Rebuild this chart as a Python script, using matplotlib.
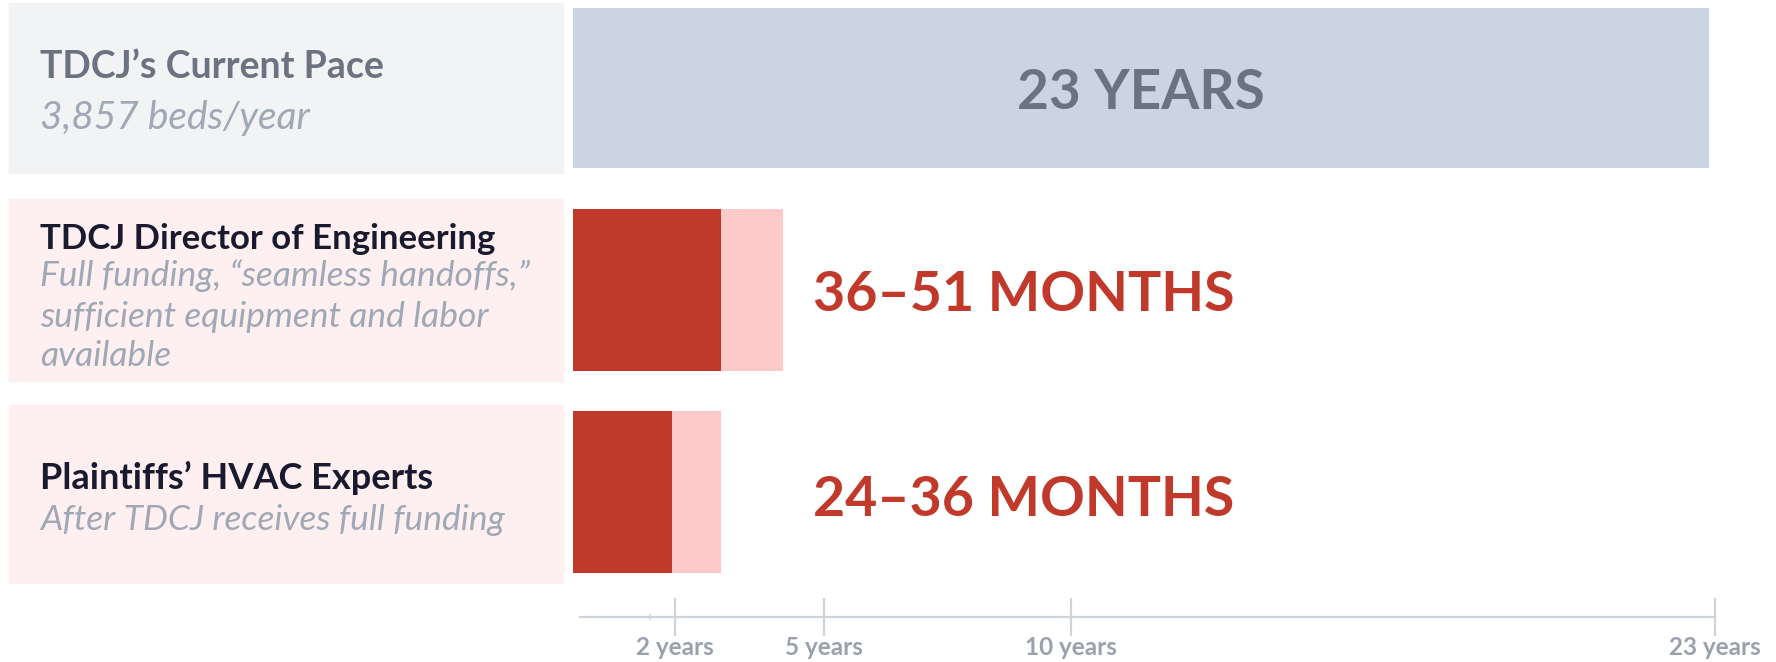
import matplotlib

matplotlib.use("Agg")
import matplotlib.pyplot as plt
from matplotlib.patches import Rectangle

# --- Data ---------------------------------------------------------------------
row_titles = ["TDCJ\u2019s Current Pace", "TDCJ Director of Engineering", "Plaintiffs\u2019 HVAC Experts"]
row_subtitles = [
    ["3,857 beds/year"],
    ["Full funding, \u201cseamless handoffs,\u201d", "sufficient equipment and labor", "available"],
    ["After TDCJ receives full funding"],
]
low_months = [276, 36, 24]
high_months = [276, 51, 36]
value_labels = ["23 YEARS", "36\u201351 MONTHS", "24\u201336 MONTHS"]
tick_years = [2, 5, 10, 23]
tick_labels = ["2 years", "5 years", "10 years", "23 years"]

# --- Style --------------------------------------------------------------------
FONT = "Lato"
GRAY_BAR = "#cbd5e1"
DARK_RED = "#c0392b"
LIGHT_RED = "#fec9c9"
PANEL_GRAY = "#f2f3f5"
PANEL_PINK = "#fef0f0"
SLATE = "#6b7280"
NAVY = "#1a1a2e"
MUTED = "#a0a8b5"
AXIS = "#cfd3da"

W, H = 1776, 662
PX_PER_YEAR = 49.4
X0 = 573  # pixel where 0 years sits on the bars
AX_X0, AX_PX_PER_YEAR = 576, 49.5  # the scale underneath is drawn slightly offset
ROW_TOP, ROW_STEP = 88, 202  # pixel centre of first row and spacing


def fx(px):
    return px / W


def fy(py):
    return 1 - py / H


fig = plt.figure(figsize=(W / 100, H / 100), dpi=100)
fig.patch.set_facecolor("white")

# bar axes covers the full height; x in years
xmax = (W - X0) / PX_PER_YEAR
ax = fig.add_axes([fx(X0), 0, 1 - fx(X0), 1])
ax.set_xlim(0, xmax)
ax.set_ylim((H - ROW_TOP) / ROW_STEP, -ROW_TOP / ROW_STEP)
ax.axis("off")

low_years = [m / 12 for m in low_months]
high_years = [m / 12 for m in high_months]
ypos = list(range(len(row_titles)))
bar_h = 0.805

ax.barh(ypos[0], high_years[0], height=bar_h * 0.985, color=GRAY_BAR, left=0)
ax.text(high_years[0] / 2, ypos[0] + 0.025, value_labels[0], ha="center", va="center",
        fontsize=39.5, fontweight="bold", color=SLATE, family=FONT)

for i in ypos[1:]:
    ax.barh(i, high_years[i], height=bar_h, color=LIGHT_RED)
    ax.barh(i, low_years[i], height=bar_h, color=DARK_RED)
    ax.text(4.86, i + 0.01 + 0.015 * i, value_labels[i], ha="left", va="center",
            fontsize=40, fontweight="bold", color=DARK_RED, family=FONT)

# left-hand label panels
panels = [(3, 173, PANEL_GRAY), (199, 381, PANEL_PINK), (405, 583, PANEL_PINK)]
for top, bot, col in panels:
    fig.patches.append(Rectangle((fx(9), fy(bot)), fx(563) - fx(9), (bot - top) / H,
                                 transform=fig.transFigure, color=col, zorder=0))

title_colors = [SLATE, NAVY, NAVY]
title_sizes = [27, 25, 26]
sub_sizes = [28, 25.5, 25.5]
title_y = [67, 239, 478]
sub_y = [[118], [276, 317, 356], [520]]
for i in ypos:
    fig.text(fx(40), fy(title_y[i]), row_titles[i], ha="left", va="center",
             fontsize=title_sizes[i], fontweight="bold", color=title_colors[i], family=FONT)
    for line, yy in zip(row_subtitles[i], sub_y[i]):
        fig.text(fx(40), fy(yy), line, ha="left", va="center", fontsize=sub_sizes[i],
                 style="italic", color=MUTED, family=FONT)

# time scale along the bottom
axis_y = 617
ax_xmax = (W - AX_X0) / AX_PX_PER_YEAR
axx = fig.add_axes([fx(AX_X0), fy(axis_y), 1 - fx(AX_X0), 0.0001])
axx.set_xlim(0, ax_xmax)
axx.set_yticks([])
axx.patch.set_visible(False)
for s in ("top", "left", "right"):
    axx.spines[s].set_visible(False)
axx.spines["bottom"].set_color(AXIS)
axx.spines["bottom"].set_linewidth(1.6)
axx.spines["bottom"].set_bounds(0.08, 23)
axx.set_xticks(tick_years)
axx.set_xticklabels(tick_labels, fontsize=17.5, fontweight="bold", color="#9aa1ad", family=FONT)
axx.set_xticks([1.5], minor=True)
axx.tick_params(axis="x", which="major", direction="inout", length=28, width=1.6,
                color=AXIS, pad=0)
axx.tick_params(axis="x", which="minor", direction="inout", length=5, width=1.2, color=AXIS)

fig.savefig("out.png", dpi=100, facecolor="white")
